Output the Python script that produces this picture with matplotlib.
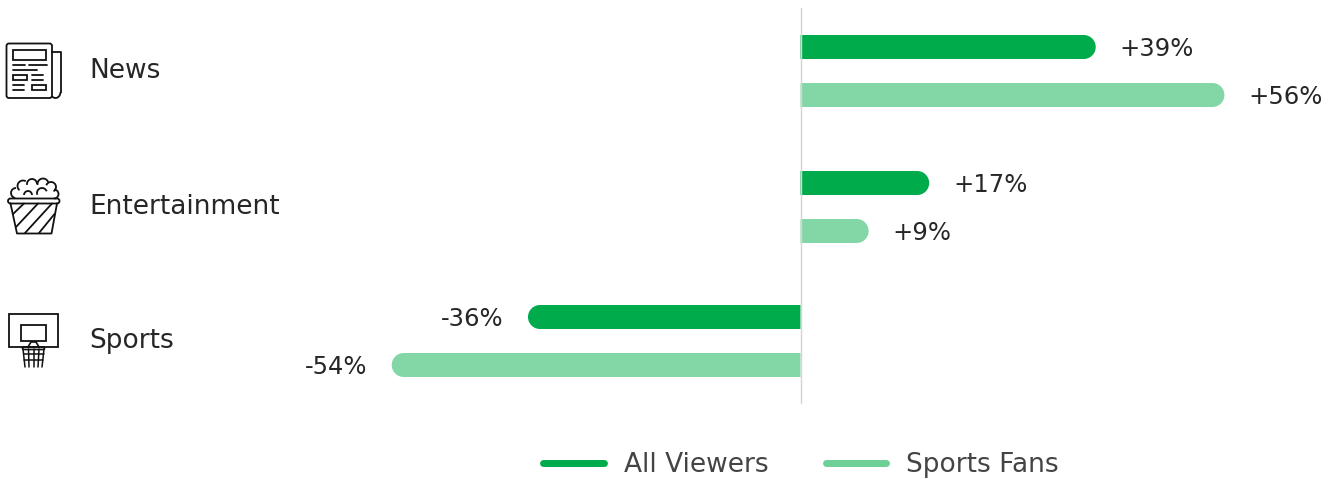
import numpy as np
import matplotlib
matplotlib.use("Agg")
import matplotlib.pyplot as plt
from matplotlib.path import Path
from matplotlib.patches import PathPatch, Rectangle, FancyBboxPatch, Arc

categories = ["News", "Entertainment", "Sports"]
all_viewers = [39, 17, -36]
sports_fans = [56, 9, -54]
series_names = ["All Viewers", "Sports Fans"]

DARK = "#00AB4C"
LIGHT = "#83D6A5"
LEGEND_LIGHT = "#6ECF97"
INK = "#262626"
LINE = "#111111"
W, H = 1335, 479
PX_PER_PCT = 7.57
ZERO_X = 800.5
ROW_Y = [71, 207, 341]
BAR_GAP = 24   # from row centre to bar centre
BAR_H = 24

plt.rcParams["font.family"] = ["DejaVu Sans"]

fig = plt.figure(figsize=(W / 100, H / 100), dpi=100)
ax = fig.add_axes([0, 0, 1, 1])
ax.set_xlim(-ZERO_X / PX_PER_PCT, (W - ZERO_X) / PX_PER_PCT)
ax.set_ylim(H, 0)
ax.axis("off")

# zero line sits on top of the bars
ax.axvline(0, ymin=1 - 403 / H, ymax=1 - 8 / H, color="#d4d4d4", lw=1, zorder=3)


def round_bar(ax, y, value, color):
    # bar from zero to value, only the far end is rounded
    r = BAR_H / 2
    rx = r / PX_PER_PCT
    s = np.sign(value)
    x1 = value
    k = 0.5523
    verts = [(0, y - r), (x1 - s * rx, y - r),
             (x1 - s * rx + s * rx * k, y - r), (x1, y - r * k), (x1, y),
             (x1, y + r * k), (x1 - s * rx + s * rx * k, y + r), (x1 - s * rx, y + r),
             (0, y + r), (0, y - r)]
    codes = [Path.MOVETO, Path.LINETO, Path.CURVE4, Path.CURVE4, Path.CURVE4,
             Path.CURVE4, Path.CURVE4, Path.CURVE4, Path.LINETO, Path.CLOSEPOLY]
    ax.add_patch(PathPatch(Path(verts, codes), fc=color, ec="none", zorder=2))
    txt = f"{value:+d}%"
    ax.annotate(txt, (value, y), xytext=(24 * 0.72 * s, -9 * 0.72), textcoords="offset points",
                ha="left" if value > 0 else "right", va="baseline",
                fontsize=17.5, color=INK)


for i, cat in enumerate(categories):
    round_bar(ax, ROW_Y[i] - BAR_GAP, all_viewers[i], DARK)
    round_bar(ax, ROW_Y[i] + BAR_GAP, sports_fans[i], LIGHT)

# overlay in pixel units for the icons, row labels and legend
ov = fig.add_axes([0, 0, 1, 1])
ov.set_xlim(0, W)
ov.set_ylim(H, 0)
ov.axis("off")
ov.patch.set_alpha(0)

for cat, y in zip(categories, ROW_Y):
    ov.text(89, y + 7, cat, fontsize=19, color=INK, va="baseline", ha="left")


def seg(x0, y0, x1, y1, lw=1.3):
    ov.plot([x0, x1], [y0, y1], color=LINE, lw=lw, solid_capstyle="round")


def box(x0, y0, x1, y1, lw=1.3):
    ov.add_patch(Rectangle((x0, y0), x1 - x0, y1 - y0, fc="none", ec=LINE, lw=lw))


# newspaper
ov.add_patch(FancyBboxPatch((6.5, 43.5), 45.5, 54.5, boxstyle="round,pad=0,rounding_size=2.5",
                            fc="none", ec=LINE, lw=1.3))
ov.plot([52, 60.5, 60.5], [52, 52, 92], color=LINE, lw=1.3)
ov.add_patch(Arc((55.5, 92), 10, 12, theta1=0, theta2=130, ec=LINE, lw=1.3))
box(13, 50, 46, 60)
seg(13, 64.5, 25, 64.5)
seg(29, 64.5, 46.5, 64.5)
seg(13, 69.5, 37, 69.5)
box(13, 74.5, 27, 79.5)
seg(32, 74.5, 43, 74.5)
seg(32, 79.5, 43, 79.5)
seg(13, 84.5, 24, 84.5)
seg(13, 89.5, 24, 89.5)
box(32, 84.5, 46, 89.5)

# popcorn bucket
ov.add_patch(FancyBboxPatch((8, 198.5), 51.5, 5, boxstyle="round,pad=0,rounding_size=2.5",
                            fc="none", ec=LINE, lw=1.3))
ov.plot([10.5, 17, 51.5, 57], [203.5, 233.5, 233.5, 203.5], color=LINE, lw=1.3)
for x0, y0, x1, y1 in [(13, 214, 24, 203.5), (16, 227, 38, 203.5),
                       (25, 233, 52, 203.5), (39, 233, 54.5, 214)]:
    seg(x0, y0, x1, y1)
for cx, cy, d, t1, t2 in [(16, 193, 10, 90, 260), (23, 186, 11, 60, 230), (32, 184, 10, 0, 190),
                          (43, 184, 11, 20, 190), (51, 187, 10, -60, 160), (54, 194, 9, -90, 90),
                          (42, 193, 10, 20, 200), (28, 195, 8, 0, 180)]:
    ov.add_patch(Arc((cx, cy), d, d, theta1=-t2, theta2=-t1, ec=LINE, lw=1.3))

# hoop
box(8.5, 314, 58, 347)
box(20.7, 325, 46, 341)
ov.plot([28, 31, 36, 39], [347, 342, 342, 347], color=LINE, lw=1.2)
ov.add_patch(FancyBboxPatch((22.5, 347), 22, 2.5, boxstyle="round,pad=0,rounding_size=1.2",
                            fc="none", ec=LINE, lw=1.2))
for xt, xb in [(23, 25), (28.5, 29), (33.5, 33.5), (39, 38), (44, 42)]:
    seg(xt, 349, xb, 367, lw=1.1)
seg(23.5, 354, 43.5, 354, lw=1.1)
seg(24, 360, 43, 360, lw=1.1)

# legend
ov.plot([543, 604], [463, 463], color=DARK, lw=5, solid_capstyle="round")
ov.plot([826, 886], [463, 463], color=LEGEND_LIGHT, lw=5, solid_capstyle="round")
ov.text(624, 472, series_names[0], fontsize=19, color="#444444", va="baseline", ha="left")
ov.text(906, 472, series_names[1], fontsize=19, color="#444444", va="baseline", ha="left")

fig.savefig("out.png", dpi=100)
